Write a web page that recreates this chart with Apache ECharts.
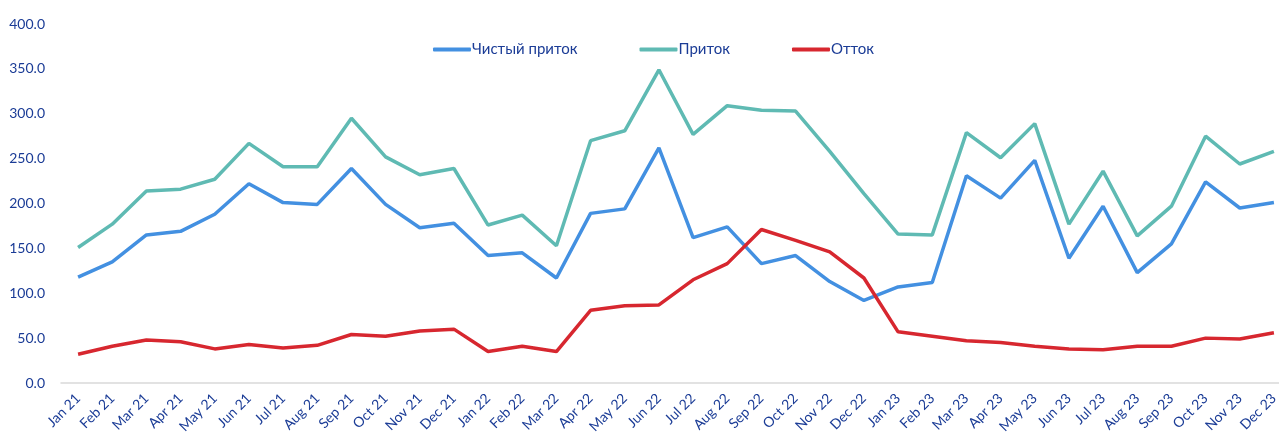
<!DOCTYPE html>
<html><head><meta charset="utf-8">
<script src="https://cdn.jsdelivr.net/npm/echarts@6/dist/echarts.min.js"></script>
<style>html,body{margin:0;padding:0;background:#fff}#c{width:1279px;height:444px}</style>
</head><body><div id="c"></div>
<script>
const categories = ["Jan 21","Feb 21","Mar 21","Apr 21","May 21","Jun 21","Jul 21","Aug 21","Sep 21","Oct 21","Nov 21","Dec 21",
"Jan 22","Feb 22","Mar 22","Apr 22","May 22","Jun 22","Jul 22","Aug 22","Sep 22","Oct 22","Nov 22","Dec 22",
"Jan 23","Feb 23","Mar 23","Apr 23","May 23","Jun 23","Jul 23","Aug 23","Sep 23","Oct 23","Nov 23","Dec 23"];
const netInflow = [118,135,165,169,188,222,201,199,239,199,173,178,
142,145,117,189,194,262,162,174,133,142,113,92,
107,112,231,206,248,139,197,123,155,224,195,201];
const inflow = [151,177,214,216,227,267,241,241,295,252,232,239,
176,187,153,270,281,349,277,309,304,303,258,211,
166,165,279,251,289,177,236,164,197,275,244,258];
const outflow = [32,41,48,46,38,43,39,42,54,52,58,60,
35,41,35,81,86,87,115,133,171,159,146,117,
57,52,47,45,41,38,37,41,41,50,49,56];
const seriesNames = ["Чистый приток","Приток","Отток"];
const colors = ["#4390e1","#5fbab3","#d7272f"];
const txt = "#1b3c96";
const font = "Lato";

const chart = echarts.init(document.getElementById('c'));
chart.setOption({
  animation:false,
  color: colors,
  textStyle:{fontFamily:font},
  legend:{
    top:37, left:428, itemWidth:38, itemHeight:4, itemGap:62,
    icon:'roundRect',
    textStyle:{color:txt,fontSize:15,fontFamily:font,padding:[0,0,0,-4]},
    data: seriesNames
  },
  grid:{left:61, top:24, width:1230, bottom:61, containLabel:false, outerBoundsMode:'none'},
  xAxis:{
    type:'category', data:categories, boundaryGap:true,
    axisLine:{lineStyle:{color:'#d9d9d9',width:1.5}},
    axisTick:{show:false},
    axisLabel:{color:txt,fontSize:14,rotate:45,interval:0,margin:13,fontFamily:font}
  },
  yAxis:{
    type:'value', min:0, max:400, interval:50,
    axisLine:{show:false}, axisTick:{show:false}, splitLine:{show:false},
    axisLabel:{color:txt,fontSize:14,margin:16,fontFamily:font,formatter:v=>v.toFixed(1)}
  },
  series:[
    {name:seriesNames[0],type:'line',data:netInflow,symbol:'none',lineStyle:{width:3.5,color:colors[0]}},
    {name:seriesNames[1],type:'line',data:inflow,symbol:'none',lineStyle:{width:3.5,color:colors[1]}},
    {name:seriesNames[2],type:'line',data:outflow,symbol:'none',lineStyle:{width:3.5,color:colors[2]}}
  ]
});
</script></body></html>
